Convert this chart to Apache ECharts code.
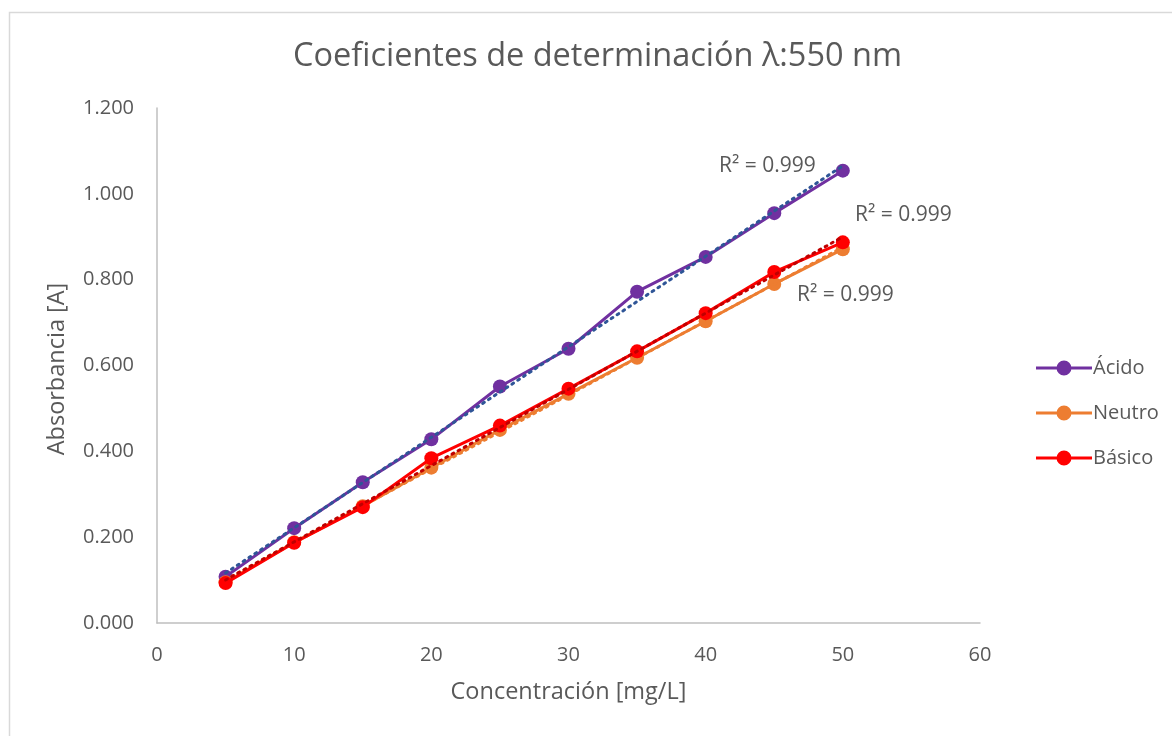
<!DOCTYPE html>
<html><head><meta charset="utf-8">
<script src="https://cdn.jsdelivr.net/npm/echarts@6/dist/echarts.min.js"></script>
<style>html,body{margin:0;padding:0;background:#fff}#c{width:1172px;height:736px}</style>
</head><body><div id="c"></div>
<script>
const concentrations = [5, 10, 15, 20, 25, 30, 35, 40, 45, 50];
const acido  = [0.108, 0.221, 0.328, 0.428, 0.551, 0.639, 0.772, 0.853, 0.955, 1.054];
const neutro = [0.095, 0.188, 0.272, 0.362, 0.450, 0.534, 0.618, 0.703, 0.790, 0.871];
const basico = [0.093, 0.187, 0.270, 0.384, 0.460, 0.546, 0.633, 0.722, 0.818, 0.887];
const seriesNames = ['Ácido', 'Neutro', 'Básico'];
const r2Labels = ['R² = 0.999', 'R² = 0.999', 'R² = 0.999'];
const xTicks = [0, 10, 20, 30, 40, 50, 60];
const yAxisTitle = 'Absorbancia [A]';
const xAxisTitle = 'Concentración [mg/L]';

function pairs(ys){ return concentrations.map((x,i)=>[x, ys[i]]); }
function fit(ys){
  const n = ys.length;
  const mx = concentrations.reduce((a,b)=>a+b,0)/n;
  const my = ys.reduce((a,b)=>a+b,0)/n;
  let sxy=0, sxx=0;
  concentrations.forEach((x,i)=>{ sxy += (x-mx)*(ys[i]-my); sxx += (x-mx)*(x-mx); });
  const b = sxy/sxx, a = my - b*mx;
  const x0 = concentrations[0], x1 = concentrations[n-1];
  return [[x0, a+b*x0],[x1, a+b*x1]];
}
const colors = ['#7030A0', '#ED7D31', '#FF0000'];
const trendColors = ['#2F5597', '#ED7D31', '#C00000'];
const data = [acido, neutro, basico];

const legendIcon = 'path://M0,6H21V9H0Z M35,6H56V9H35Z M20.5,7.5A7.5,7.5 0 1,1 35.5,7.5A7.5,7.5 0 1,1 20.5,7.5Z';

const series = [];
data.forEach((ys, i) => {
  series.push({
    name: seriesNames[i], type: 'line', data: pairs(ys),
    symbol: 'circle', symbolSize: 14,
    lineStyle: { color: colors[i], width: 3 },
    itemStyle: { color: colors[i] },
    z: 2 + i*2, silent: true
  });
});
data.forEach((ys, i) => {
  series.push({
    name: seriesNames[i] + ' trend', type: 'line', data: fit(ys),
    symbol: 'none',
    lineStyle: { color: trendColors[i], width: 3, type: [2, 5], cap: 'round' },
    z: 3 + i*2, silent: true
  });
});

const chart = echarts.init(document.getElementById('c'), null, {renderer:'canvas'});
const font = '"Open Sans", sans-serif';
chart.setOption({
  animation: false,
  backgroundColor: '#fff',
  title: {
    text: 'Coeficientes de determinación λ:550 nm',
    left: 288, top: 35,
    textStyle: { fontFamily: font, fontSize: 32.5, fontWeight: 'normal', color: '#595959' }
  },
  legend: {
    data: seriesNames.map(n => ({ name: n, icon: legendIcon })),
    orient: 'vertical', left: 1031, top: 352,
    itemWidth: 56, itemHeight: 15, itemGap: 23,
    textStyle: { fontFamily: font, fontSize: 20, lineHeight: 22, color: '#595959', padding: [0,0,0,-4] }
  },
  grid: { left: 157, right: 192, top: 108, bottom: 113, containLabel: false },
  xAxis: {
    type: 'value', min: 0, max: 60, interval: 10,
    name: xAxisTitle, nameLocation: 'middle', nameGap: 57,
    nameTextStyle: { fontFamily: font, fontSize: 23.5, color: '#595959' },
    axisLine: { show: true, lineStyle: { color: '#BFBFBF', width: 1.5 } },
    axisTick: { show: false },
    splitLine: { show: false },
    axisLabel: { fontFamily: font, fontSize: 20, color: '#595959', margin: 22,
      formatter: v => xTicks.includes(v) ? String(v) : '' }
  },
  yAxis: {
    type: 'value', min: 0, max: 1.2, interval: 0.2,
    axisLine: { show: true, lineStyle: { color: '#BFBFBF', width: 1.5 } },
    axisTick: { show: false },
    splitLine: { show: false },
    axisLabel: { fontFamily: font, fontSize: 20, color: '#595959', margin: 23,
      formatter: v => v.toFixed(3) }
  },
  graphic: [
    { type: 'rect', left: 7, top: 10, shape: { width: 1200, height: 800 },
      style: { fill: 'none', stroke: '#D9D9D9', lineWidth: 1.5 }, silent: true, z: -1 },
    { type: 'text', x: 57, y: 369, rotation: Math.PI / 2,
      style: { text: yAxisTitle, fontFamily: font, fontSize: 23.5, fill: '#595959', align: 'center', verticalAlign: 'middle' } },
    { type: 'text', left: 719, top: 156, style: { text: r2Labels[0], fontFamily: font, fontSize: 21, fill: '#595959' } },
    { type: 'text', left: 797, top: 285, style: { text: r2Labels[1], fontFamily: font, fontSize: 21, fill: '#595959' } },
    { type: 'text', left: 855, top: 205, style: { text: r2Labels[2], fontFamily: font, fontSize: 21, fill: '#595959' } }
  ],
  series: series
});
</script></body></html>
